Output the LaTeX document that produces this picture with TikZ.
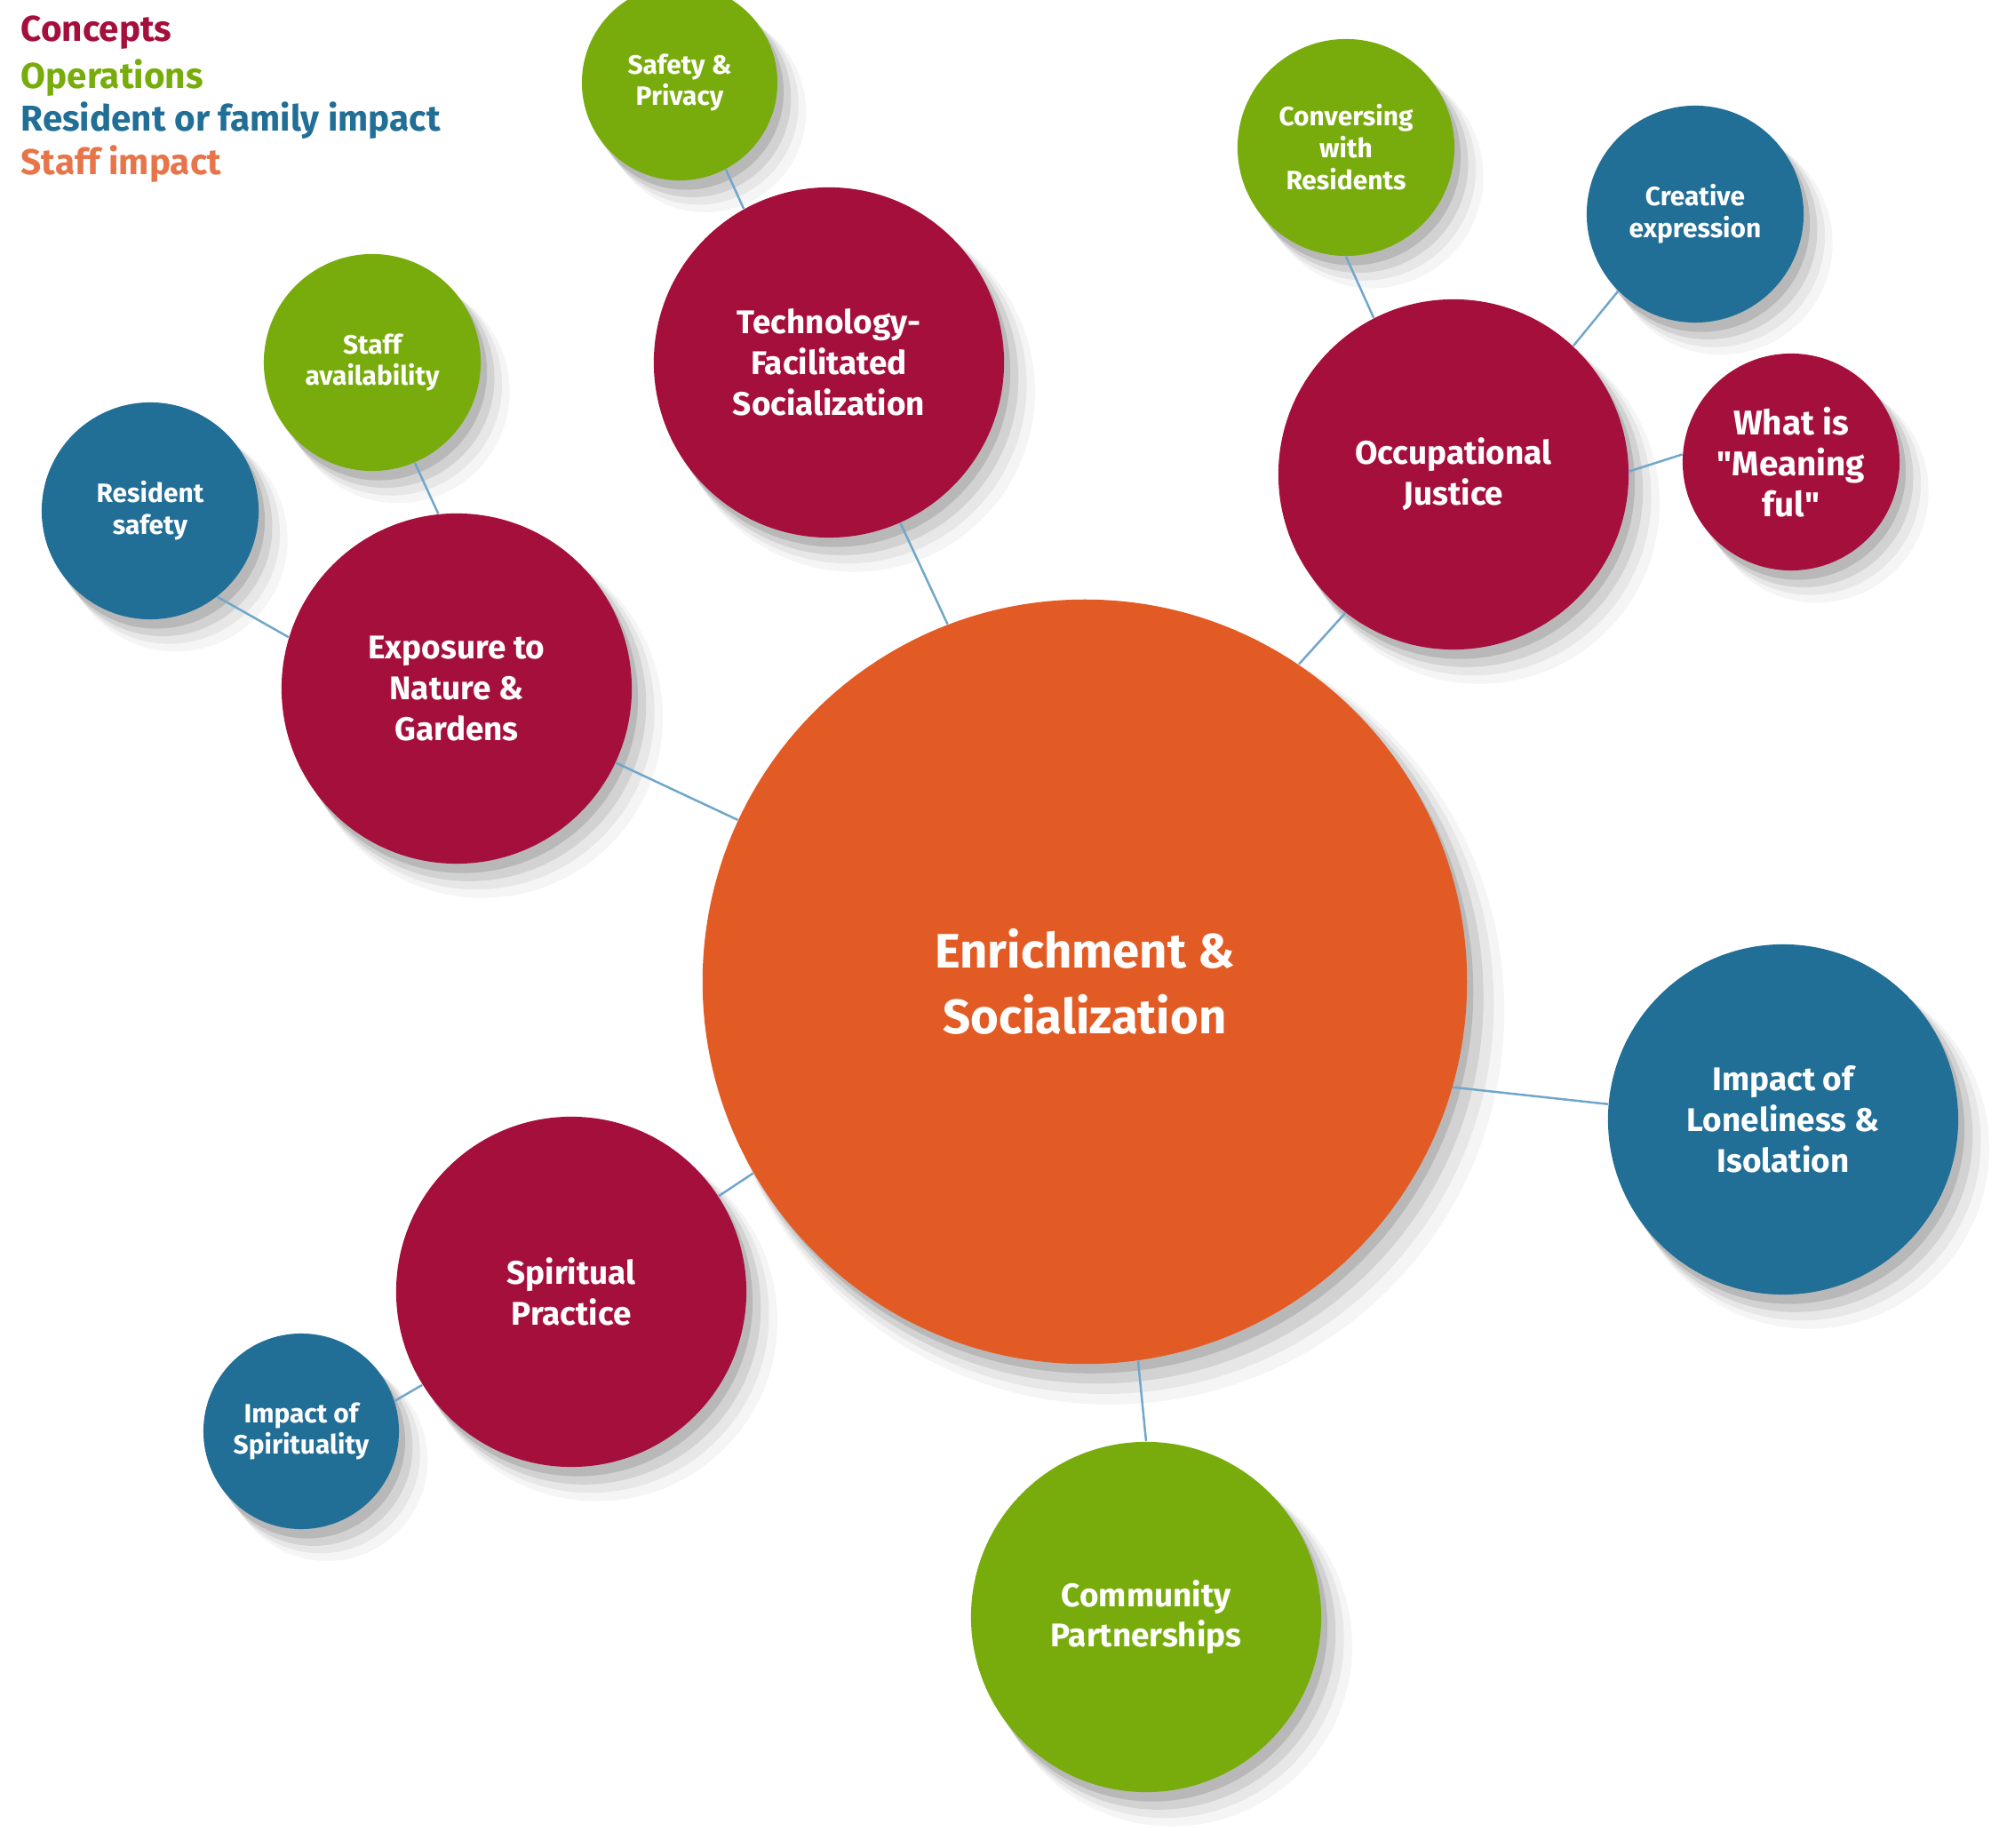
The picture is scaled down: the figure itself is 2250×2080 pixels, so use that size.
\documentclass[tikz,border=0pt]{standalone}
\usepackage{fontspec}
\setmainfont{Fira Sans}
\usepackage{tikz}
\usetikzlibrary{positioning, shadows}

\definecolor{concept}{HTML}{A50F3C}
\definecolor{oper}{HTML}{78AC0C}
\definecolor{resid}{HTML}{216E96}
\definecolor{staff}{HTML}{E35B24}
\definecolor{stafflight}{HTML}{E8744A}
\definecolor{linkblue}{HTML}{6FA6CB}

\begin{document}
\begin{tikzpicture}[
  x=0.01cm, y=-0.01cm,
  bubble/.style={circle, inner sep=2pt, align=center, text=white,
    drop shadow={shadow xshift=8pt, shadow yshift=-9pt, opacity=.04, fill=black, shadow scale=1.03},
    drop shadow={shadow xshift=6pt, shadow yshift=-7pt, opacity=.06, fill=black, shadow scale=1.02},
    drop shadow={shadow xshift=4pt, shadow yshift=-5pt, opacity=.09, fill=black, shadow scale=1.01},
    drop shadow={shadow xshift=2pt, shadow yshift=-3pt, opacity=.12, fill=black}},
  hub/.style={bubble, fill=staff, minimum size=8.6cm, font=\bfseries\fontsize{15.5}{21}\selectfont},
  topic/.style={bubble, minimum size=3.94cm, font=\bfseries\fontsize{10.5}{13}\selectfont},
  leaf/.style={bubble, minimum size=2.44cm, font=\bfseries\fontsize{8.5}{10.2}\selectfont},
  legend/.style={anchor=west, inner sep=0pt, font=\bfseries\fontsize{11.5}{14}\selectfont},
  link/.style={draw=linkblue, line width=0.7pt}
]
  \useasboundingbox (0,0) rectangle (2250,2080);

  % legend
  \node[legend, text=concept] (lgconcept) at (23,37) {Concepts};
  \node[legend, text=oper] (lgoper) at (23,88) {Operations};
  \node[legend, text=resid] (lgresid) at (23,136) {Resident or family impact};
  \node[legend, text=stafflight] (lgstaff) at (23,185) {Staff impact};

  % bubbles
  \node[hub] (enrich) at (1221,1105) {Enrichment \&\\Socialization};
  \node[topic, fill=concept] (tech) at (933,408) {Technology-\\Facilitated\\Socialization};
  \node[leaf, fill=oper, minimum size=2.2cm] (safepriv) at (765,93) {Safety \&\\Privacy};
  \node[topic, fill=concept] (occjust) at (1636,534) {Occupational\\Justice};
  \node[leaf, fill=oper] (convers) at (1515,166) {Conversing\\with\\Residents};
  \node[leaf, fill=resid] (creative) at (1908,241) {Creative\\expression};
  \node[leaf, fill=concept, font=\bfseries\fontsize{11}{13}\selectfont] (meaning) at (2016,520) {What is\\\textquotedbl Meaning\\ful\textquotedbl};
  \node[topic, fill=concept] (nature) at (514,775) {Exposure to\\Nature \&\\Gardens};
  \node[leaf, fill=oper] (staffav) at (419,408) {Staff\\availability};
  \node[leaf, fill=resid] (ressafe) at (169,575) {Resident\\safety};
  \node[topic, fill=concept] (spirit) at (643,1454) {Spiritual\\Practice};
  \node[leaf, fill=resid, minimum size=2.2cm] (impspirit) at (339,1611) {Impact of\\Spirituality};
  \node[topic, fill=resid] (lonely) at (2007,1260) {Impact of\\Loneliness \&\\Isolation};
  \node[topic, fill=oper] (community) at (1290,1820) {Community\\Partnerships};

  % links
  \draw[link] (safepriv.-62) -- (tech.119);
  \draw[link] (tech.-66) -- (enrich.111);
  \draw[link] (staffav.-67) -- (nature.96);
  \draw[link] (ressafe.-52) -- (nature.163);
  \draw[link] (nature.-25) -- (enrich.155);
  \draw[link] (convers.-90) -- (occjust.117);
  \draw[link] (creative.-135) -- (occjust.47);
  \draw[link] (meaning.176) -- (occjust.1);
  \draw[link] (occjust.-128) -- (enrich.56);
  \draw[link] (enrich.-16) -- (lonely.175);
  \draw[link] (spirit.33) -- (enrich.-150);
  \draw[link] (impspirit.18) -- (spirit.-148);
  \draw[link] (enrich.-82) -- (community.90);
\end{tikzpicture}
\end{document}
